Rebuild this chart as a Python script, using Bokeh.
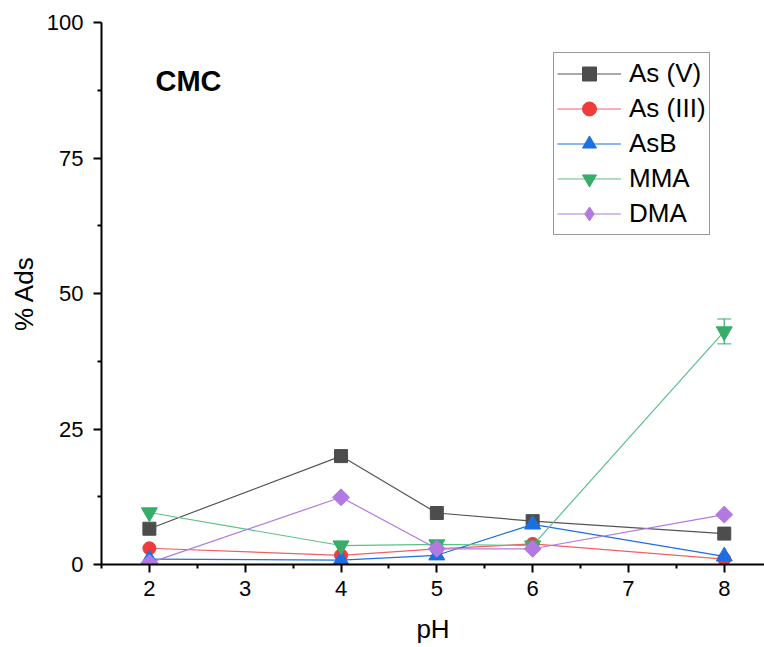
import numpy as np
from bokeh.plotting import figure
from bokeh.models import (ColumnDataSource, FixedTicker, Range1d, Legend, LegendItem,
                          Whisker, Label)
from bokeh.embed import file_html
from bokeh.resources import INLINE

ph = [2, 4, 5, 6, 8]
as_v = [6.6, 20.0, 9.5, 8.0, 5.7]
as_iii = [3.0, 1.7, 2.9, 3.8, 1.0]
asb = [1.0, 0.8, 1.7, 7.4, 1.5]
mma = [9.6, 3.5, 3.7, 3.5, 43.0]
dma = [0.3, 12.4, 2.9, 2.9, 9.2]
mma_err = [0.0, 0.0, 0.0, 0.0, 2.3]

x_ticks = [2, 3, 4, 5, 6, 7, 8]
y_ticks = [0, 25, 50, 75, 100]

series = [
    ("As (V)", as_v, "#4d4d4d", "#555555", "square", 13, 0.0),
    ("As (III)", as_iii, "#ef3b3b", "#f06060", "circle", 13, 0.0),
    ("AsB", asb, "#1c6fe0", "#1c6fe0", "triangle", 16, 0.0),
    ("MMA", mma, "#36ad68", "#5cc08a", "inverted_triangle", 16, 0.0),
    ("DMA", dma, "#b279e0", "#b279e0", "square", 12, np.pi / 4),
]

FONT = "Liberation Sans"

p = figure(width=764, height=647, output_backend="svg", toolbar_location=None,
           x_range=Range1d(1.5, 8.42), y_range=Range1d(0, 100),
           min_border_left=101, min_border_right=0, min_border_top=22,
           min_border_bottom=83)
p.outline_line_color = None
p.xgrid.visible = False
p.ygrid.visible = False

items = []
for name, ys, mcol, lcol, marker, size, ang in series:
    src = ColumnDataSource(dict(x=ph, y=ys))
    r1 = p.line("x", "y", source=src, line_color=lcol, line_width=1.2)
    r2 = p.scatter("x", "y", source=src, marker=marker, size=size, angle=ang,
                   fill_color=mcol, line_color=mcol)
    if ang != 0.0:
        # legend-only glyph (placed outside the visible range) showing a diamond
        r2 = p.scatter(x=[-100], y=[-100], marker="diamond", size=19,
                       fill_color=mcol, line_color=mcol)
    items.append(LegendItem(label=name, renderers=[r1, r2]))

# MMA error bar
ex = [x for x, e in zip(ph, mma_err) if e > 0]
ey = [y for y, e in zip(mma, mma_err) if e > 0]
ee = [e for e in mma_err if e > 0]
esrc = ColumnDataSource(dict(x=ex, lo=[a - b for a, b in zip(ey, ee)],
                             hi=[a + b for a, b in zip(ey, ee)]))
w = Whisker(base="x", lower="lo", upper="hi", source=esrc, line_color="#36ad68",
            line_width=1.2)
w.upper_head.size = 14
w.lower_head.size = 14
w.upper_head.line_color = "#36ad68"
w.lower_head.line_color = "#36ad68"
p.add_layout(w)

legend = Legend(items=items, location=(452, 329), border_line_color="#333333",
                border_line_width=1, label_text_font=FONT,
                label_text_font_size="26px", label_text_color="black",
                glyph_width=64, glyph_height=35,
                label_height=35, spacing=0, padding=3, label_standoff=8,
                background_fill_alpha=1.0, margin=0)
p.add_layout(legend)

p.add_layout(Label(x=54, y=484, x_units="screen", y_units="screen",
                   text="CMC", text_font=FONT, text_font_style="bold",
                   text_font_size="29px", text_color="black", text_align="left",
                   text_baseline="middle"))

for ax in (p.xaxis[0], p.yaxis[0]):
    ax.axis_line_width = 2
    ax.axis_line_color = "black"
    ax.major_tick_line_width = 2
    ax.minor_tick_line_width = 2
    ax.major_tick_out = 8
    ax.major_tick_in = 0
    ax.minor_tick_out = 4
    ax.minor_tick_in = 0
    ax.major_label_text_font = FONT
    ax.major_label_text_font_size = "22px"
    ax.axis_label_text_font = FONT
    ax.axis_label_text_font_size = "26px"
    ax.axis_label_text_font_style = "normal"
    ax.major_label_text_color = "black"
    ax.axis_label_text_color = "black"

p.xaxis[0].ticker = FixedTicker(ticks=x_ticks,
                                minor_ticks=[1.5, 2.5, 3.5, 4.5, 5.5, 6.5, 7.5, 8.5])
p.yaxis[0].ticker = FixedTicker(ticks=y_ticks,
                                minor_ticks=[12.5, 37.5, 62.5, 87.5])
p.xaxis[0].axis_label = "pH"
p.yaxis[0].axis_label = "% Ads"
p.xaxis[0].major_label_standoff = 8
p.yaxis[0].major_label_standoff = 10
p.xaxis[0].axis_label_standoff = 15
p.yaxis[0].axis_label_standoff = 5

open("out.html", "w").write(file_html(p, INLINE))
